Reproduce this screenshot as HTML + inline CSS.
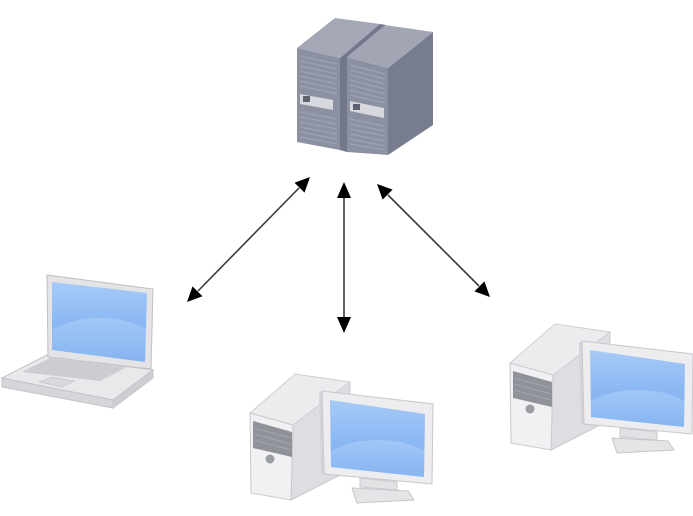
<!DOCTYPE html>
<html><head><meta charset="utf-8"><style>
html,body{margin:0;padding:0;background:#fff;}
svg{display:block;}
</style></head><body>
<svg width="693" height="516" viewBox="0 0 693 516" xmlns="http://www.w3.org/2000/svg">
<defs>
<linearGradient id="scr" x1="0" y1="0" x2="0" y2="1">
<stop offset="0" stop-color="#a7cbf7"/>
<stop offset="0.5" stop-color="#8cb8f3"/>
<stop offset="1" stop-color="#7eaef0"/>
</linearGradient>
<linearGradient id="hl" x1="0" y1="0" x2="0" y2="1">
<stop offset="0" stop-color="#b9d7fa" stop-opacity="0.9"/>
<stop offset="1" stop-color="#8fbaf3" stop-opacity="0.2"/>
</linearGradient>
<clipPath id="scrClip"><polygon points="90,40 185,54 184,117 91,107"/></clipPath>
<clipPath id="lapClip"><polygon points="52,282 147,293 145,362 52,350"/></clipPath>
<g id="desk">
  <polygon points="53,65 110,22 110,110 51,140" fill="#dedee2" stroke="#c9c9ce" stroke-width="1"/>
  <polygon points="10,53 55,14 110,22 53,65" fill="#ececef" stroke="#cfcfd4" stroke-width="1"/>
  <polygon points="10,53 53,65 51,140 11,133" fill="#f1f1f3" stroke="#c9c9ce" stroke-width="1"/>
  <polygon points="13,61 52,72 52,97 13,88" fill="#8f9299"/>
  <line x1="14" y1="68" x2="51" y2="78" stroke="#a3a6ad" stroke-width="1"/>
  <line x1="14" y1="74" x2="51" y2="84" stroke="#a3a6ad" stroke-width="1"/>
  <line x1="14" y1="80" x2="51" y2="90" stroke="#a3a6ad" stroke-width="1"/>
  <circle cx="30" cy="99" r="4.5" fill="#9a9da4"/>
  <polygon points="79,33 82,31 84,114 81,113" fill="#d4d4d8"/>
  <polygon points="82,31 193,44 192,124 84,114" fill="#ededf0" stroke="#c7c7cc" stroke-width="1"/>
  <polygon points="90,40 185,54 184,117 91,107" fill="url(#scr)"/>
  <g clip-path="url(#scrClip)">
    <ellipse cx="138" cy="112" rx="62" ry="32" fill="url(#hl)" opacity="0.55"/>
  </g>
  <polygon points="120,118 157,122 157,130 120,127" fill="#e2e2e5" stroke="#cacacf" stroke-width="1"/>
  <polygon points="112,128 168,131 174,140 117,143" fill="#e5e5e8" stroke="#c6c6cb" stroke-width="1"/>
</g>
</defs>

<!-- Server left tower -->
<polygon points="297,48 335,18 380,24 340,58" fill="#a3a7b6"/>
<polygon points="297,48 340,58 340,150 297,142" fill="#8c91a2"/>
<g stroke="#9fa3b2" stroke-width="1.3">
<line x1="300" y1="56" x2="337" y2="64"/>
<line x1="300" y1="61" x2="337" y2="69"/>
<line x1="300" y1="66" x2="337" y2="74"/>
<line x1="300" y1="71" x2="337" y2="79"/>
<line x1="300" y1="76" x2="337" y2="84"/>
<line x1="300" y1="81" x2="337" y2="89"/>
<line x1="300" y1="86" x2="337" y2="94"/>
<line x1="300" y1="112" x2="337" y2="119"/>
<line x1="300" y1="117" x2="337" y2="124"/>
<line x1="300" y1="122" x2="337" y2="129"/>
<line x1="300" y1="127" x2="337" y2="134"/>
<line x1="300" y1="132" x2="337" y2="139"/>
<line x1="300" y1="137" x2="337" y2="144"/>
</g>
<polygon points="300,94 333,100 333,110 300,104" fill="#d6d8de"/>
<rect x="303" y="96" width="7" height="6" fill="#5d6170"/>
<polygon points="340,58 380,24 386,25 347,57 347,152 340,150" fill="#72778a"/>

<!-- Server right tower -->
<polygon points="388,68 433,32 433,125 388,155" fill="#777c8e"/>
<polygon points="347,57 385,25 433,32 388,68" fill="#a1a5b4"/>
<polygon points="347,57 388,68 388,155 347,152" fill="#8c91a2"/>
<g stroke="#9fa3b2" stroke-width="1.3">
<line x1="350" y1="65" x2="385" y2="74"/>
<line x1="350" y1="70" x2="385" y2="79"/>
<line x1="350" y1="75" x2="385" y2="84"/>
<line x1="350" y1="80" x2="385" y2="89"/>
<line x1="350" y1="85" x2="385" y2="94"/>
<line x1="350" y1="90" x2="385" y2="99"/>
<line x1="350" y1="95" x2="385" y2="103"/>
<line x1="350" y1="119" x2="385" y2="126"/>
<line x1="350" y1="124" x2="385" y2="131"/>
<line x1="350" y1="129" x2="385" y2="136"/>
<line x1="350" y1="134" x2="385" y2="141"/>
<line x1="350" y1="139" x2="385" y2="146"/>
<line x1="350" y1="144" x2="385" y2="150"/>
</g>
<polygon points="350,101 384,108 384,118 350,111" fill="#d6d8de"/>
<rect x="353" y="104" width="7" height="6" fill="#5d6170"/>

<!-- Arrows -->
<g stroke="#3a3a3a" stroke-width="1.6">
<line x1="299" y1="188" x2="198" y2="291"/>
<line x1="344" y1="197" x2="344" y2="318"/>
<line x1="388" y1="195" x2="479" y2="286"/>
</g>
<g fill="#000">
<polygon points="310,177 304.5,192.6 294.5,182.8"/>
<polygon points="187,302 202.5,296.2 192.5,286.4"/>
<polygon points="344,182 337,198 351,198"/>
<polygon points="344,333 337,317 351,317"/>
<polygon points="377,184 392.6,189.6 382.6,199.6"/>
<polygon points="490,297 484.4,281.4 474.4,291.4"/>
</g>

<!-- Laptop -->
<polygon points="2,378 47,355 153,370 113,400" fill="#e9e9ec" stroke="#c4c4c9" stroke-width="1"/>
<polygon points="2,378 113,400 113,408 2,387" fill="#d6d6da" stroke="#c4c4c9" stroke-width="1"/>
<polygon points="113,400 153,370 153,378 113,408" fill="#cfcfd3" stroke="#c4c4c9" stroke-width="1"/>
<polygon points="22,372 50,358 127,367 100,381" fill="#cdcdd1"/>
<polygon points="40,382 52,377 74,381 62,387" fill="#dadade" stroke="#c2c2c7" stroke-width="0.8"/>
<polygon points="47,275 153,289 151,369 48,357" fill="#e4e4e7" stroke="#bfbfc4" stroke-width="1"/>
<polygon points="52,282 147,293 145,362 52,350" fill="url(#scr)"/>
<g clip-path="url(#lapClip)">
<ellipse cx="100" cy="352" rx="62" ry="34" fill="url(#hl)" opacity="0.55"/>
</g>

<!-- Desktops -->
<use href="#desk" transform="translate(240,360)"/>
<use href="#desk" transform="translate(500,310)"/>
</svg>
</body></html>
